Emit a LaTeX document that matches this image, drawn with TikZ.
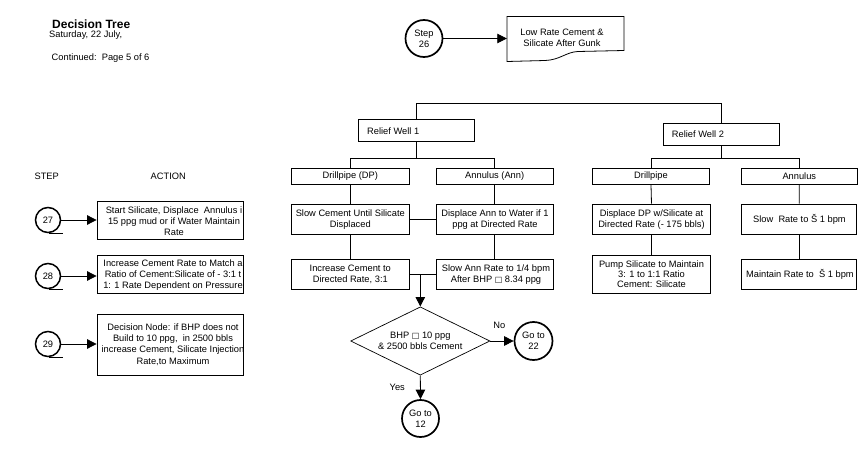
\documentclass[tikz,border=0pt]{standalone}
\usepackage{fontspec}
\setmainfont{Liberation Sans}
\newfontfamily\symfont{DejaVu Sans}
\usetikzlibrary{arrows.meta,shapes.geometric}
\begin{document}
\begin{tikzpicture}[x=1pt,y=-1pt,
  every node/.style={inner sep=0pt, font=\fontsize{9.3}{11.2}\selectfont},
  box/.style={draw, line width=0.8pt, rectangle},
  txt/.style={align=center},
  circ/.style={circle, draw, line width=1.5pt, align=center},
  conn/.style={line width=0.8pt},
  arr/.style={conn, -{Triangle[length=9.5pt,width=9.5pt]}},
  tail/.style={line width=1.5pt}]
\useasboundingbox[fill=white] (0,0) rectangle (860,460);

% header
\node[anchor=west, font=\bfseries\fontsize{12}{14}\selectfont] (title) at (52,24) {Decision Tree};
\node[anchor=west] (date) at (49,35.5) {Saturday, 22 July,};
\node[anchor=west] (cont) at (51.5,58.5) {Continued:\ \ Page 5 of 6};

% step 26
\node[circ, minimum size=37pt, line width=1.7pt] (s26) at (424,38.5) {Step\\26};
\node[minimum width=117pt, minimum height=45pt] (docbox) at (565.5,39) {};
\draw[conn] (507,16.5) -- (624,16.5) -- (624,50.5) -- (578,51.5)
  .. controls (566,52) and (560,60) .. (545,60.5) -- (507,61.5) -- cycle;
\node[txt] (doct) at (562,38) {Low Rate Cement \&\\Silicate After Gunk};
\draw[arr] (s26.east) -- (s26.east -| docbox.west);

% left legend
\node (stephdr) at (46.7,176.7) {STEP};
\node (acthdr) at (168.3,176.7) {ACTION};

\node[circ, minimum size=25pt] (c27) at (48,220) {27};
\node[circ, minimum size=25pt] (c28) at (48,276) {28};
\node[circ, minimum size=25pt] (c29) at (48,344) {29};
\draw[tail] ([xshift=1pt]c27.south) -- ++(14,0);
\draw[tail] ([xshift=1pt]c28.south) -- ++(14,0);
\draw[tail] ([xshift=1pt]c29.south) -- ++(14,0);

\node[box, minimum width=146pt, minimum height=37.3pt] (b27) at (170,220.3) {};
\node[box, minimum width=146pt, minimum height=37.6pt] (b28) at (170,274.5) {};
\node[box, minimum width=146pt, minimum height=60.7pt] (b29) at (170,344.7) {};
\begin{scope}
\clip (b27.south west) rectangle (b27.north east);
\node[txt] (t27) at (174,221) {Start Silicate, Displace\ \ Annulus i\\15 ppg mud or if Water Maintain\\Rate};
\end{scope}
\begin{scope}
\clip (b28.south west) rectangle (b28.north east);
\node[txt] (t28) at (173,275) {Increase Cement Rate to Match a\\Ratio of Cement:Silicate of - 3:1 t\\1: 1 Rate Dependent on Pressure};
\end{scope}
\begin{scope}
\clip (b29.south west) rectangle (b29.north east);
\node[txt] (t29) at (173,344.5) {Decision Node: if BHP does not\\Build to 10 ppg,\ \ in 2500 bbls\\increase Cement, Silicate Injection\\Rate,to Maximum};
\end{scope}
\draw[arr] (c27.east) -- (c27.east -| b27.west);
\draw[arr] (c28.east) -- (c28.east -| b28.west);
\draw[arr] (c29.east) -- (c29.east -| b29.west);

% tree
\node[box, minimum width=115.7pt, minimum height=22.4pt] (rw1) at (416.2,130.5) {};
\node[anchor=west] (rw1t) at (367,130.7) {Relief Well 1};
\node[box, minimum width=116pt, minimum height=21.7pt] (rw2) at (721.3,134.2) {};
\node[anchor=west] (rw2t) at (671.7,134.5) {Relief Well 2};
\coordinate (tl) at (416.5,103.3);
\draw[conn] (rw1.north) -- (rw1.north |- tl) -| (rw2.north);

\node[box, minimum width=117.3pt, minimum height=16pt] (dp1) at (350.3,176.3) {Drillpipe (DP)};
\node[box, minimum width=117.3pt, minimum height=16pt] (an1) at (494.7,176.3) {Annulus (Ann)};
\node[box, minimum width=117.6pt, minimum height=16pt] (dp2) at (651,176.3) {Drillpipe};
\node[box, minimum width=116.7pt, minimum height=16pt] (an2) at (799.3,176.3) {Annulus};
\coordinate (lv) at (0,158.3);
\draw[conn] (rw1.south) -- (rw1.south |- lv);
\draw[conn] (dp1.north) |- (rw1.south |- lv) -| (an1.north);
\draw[conn] (rw2.south) -- (rw2.south |- lv);
\draw[conn] (dp2.north) |- (rw2.south |- lv) -| (an2.north);

% row 3
\node[box, minimum width=117.3pt, minimum height=30.5pt] (r3a) at (350.3,219.3) {};
\node[txt] (r3at) at (350.3,219.3) {Slow Cement Until Silicate\\Displaced};
\node[box, minimum width=117.3pt, minimum height=30.5pt] (r3b) at (494.7,219.3) {};
\begin{scope}
\clip (r3b.south west) rectangle (r3b.north east);
\node[txt] (r3bt) at (495,219.3) {Displace Ann to Water if 1\\ppg at Directed Rate};
\end{scope}
\node[box, minimum width=118.4pt, minimum height=30.5pt] (r3c) at (651.5,219.3) {};
\node[txt] (r3ct) at (651.5,219.3) {Displace DP w/Silicate at\\Directed Rate (- 175 bbls)};
\node[box, minimum width=115pt, minimum height=30.5pt] (r3d) at (799.2,219.3) {};
\node[anchor=west] (r3dt) at (753,219.3) {Slow\ \ Rate to Š 1 bpm};

% row 4
\node[box, minimum width=117.3pt, minimum height=29.7pt] (r4a) at (350.3,274.2) {};
\node[txt] (r4at) at (350.3,274.2) {Increase Cement to\\Directed Rate, 3:1};
\node[box, minimum width=117.3pt, minimum height=29.7pt] (r4b) at (494.7,274.2) {};
\begin{scope}
\clip (r4b.south west) rectangle (r4b.north east);
\node[txt] (r4bt) at (496,274.2) {Slow Ann Rate to 1/4 bpm\\After BHP {\symfont\fontsize{8}{10}\selectfont □} 8.34 ppg};
\end{scope}
\node[box, minimum width=118.4pt, minimum height=38.3pt] (r4c) at (651.5,274.2) {};
\node[txt, font=\fontsize{9.3}{10}\selectfont] (r4ct) at (651.5,274.5) {Pump Silicate to Maintain\\3: 1 to 1:1 Ratio\\Cement: Silicate};
\node[box, minimum width=115pt, minimum height=30pt] (r4d) at (799.2,274.3) {};
\begin{scope}
\clip (r4d.south west) rectangle (r4d.north east);
\node[anchor=west] (r4dt) at (746,274.3) {Maintain Rate to\ \ Š 1 bpm};
\end{scope}

\draw[conn] (dp1.south) -- (r3a.north);
\draw[conn] (an1.south) -- (r3b.north);
\draw[conn] (dp2.south) -- (r3c.north);
\draw[conn] (an2.south) -- (r3d.north);
\draw[conn] (r3a.south) -- (r4a.north);
\draw[conn] (r3b.south) -- (r4b.north);
\draw[conn] (r3c.south) -- (r4c.north);
\draw[conn] (r3d.south) -- (r4d.north);
\draw[conn] (r3a.east) -- (r3b.west);
\draw[conn] (r4a.east) -- (r4b.west);

% decision
\node[diamond, draw, line width=0.7pt, minimum width=139.3pt, minimum height=68.3pt] (dec) at (420.3,341) {};
\node[txt] (dect) at (420.3,341) {BHP {\symfont\fontsize{8}{10}\selectfont □} 10 ppg\\\& 2500 bbls Cement};
\draw[arr] (dec.north |- r4a.east) -- (dec.north);
\node[circ, minimum size=38pt, line width=1.7pt] (g22) at (533.5,341) {Go to\\22};
\node[circ, minimum size=37pt, line width=1.7pt] (g12) at (420.5,418.5) {Go to\\12};
\draw[arr] (dec.east) -- (g22.west);
\draw[arr] (dec.south) -- (g12.north);
\node (no) at (499.3,325) {No};
\node (yes) at (397.3,387.7) {Yes};
\end{tikzpicture}
\end{document}
